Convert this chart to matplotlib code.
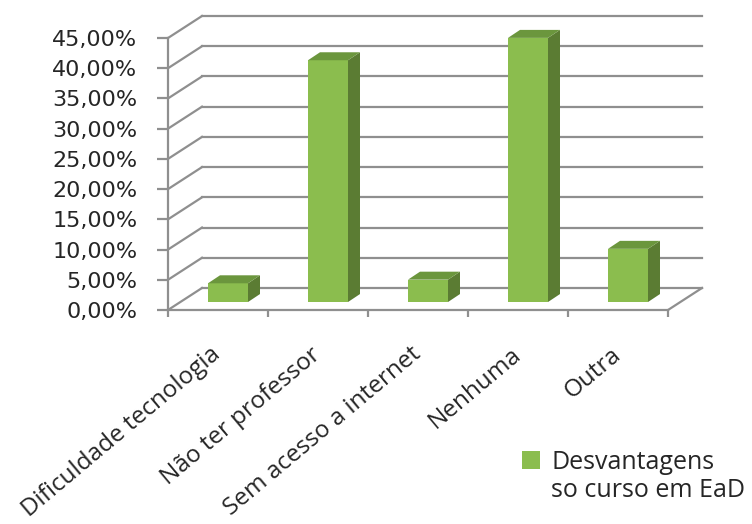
import numpy as np
import matplotlib.pyplot as plt
from matplotlib.patches import Polygon, Patch
from matplotlib.ticker import FuncFormatter

categorias = ["Dificuldade tecnologia", "Não ter professor", "Sem acesso a internet",
              "Nenhuma", "Outra"]
valores = [3.1, 40.0, 3.7, 43.7, 8.8]
legenda = ["Desvantagens", "so curso em EaD"]
yticks = np.arange(0, 46, 5)

verde = "#8bbd4e"
lado = "#5b7c33"
topo = "#6b963d"
grade = "#8f8f8f"

# fake 3d perspective, in data units
prof_x, prof_y = 0.34, 3.64     # back wall offset
base_x, base_y = 0.10, 1.32     # where the bars sit in depth
larg = 0.40
lado_x, lado_y = 0.12, 1.32     # bar depth

fig = plt.figure(figsize=(7.52, 5.24), dpi=100)
ax = fig.add_axes([168 / 752, 1 - 310 / 524, 500 / 752, 272 / 524])
ax.set_xlim(-0.5, 4.5)
ax.set_ylim(0, 45)
ax.patch.set_visible(False)
for s in ["top", "right"]:
    ax.spines[s].set_visible(False)
for s in ["left", "bottom"]:
    ax.spines[s].set_color(grade)
    ax.spines[s].set_linewidth(1.6)

# back wall + floor
for v in yticks:
    ax.plot([-0.5 + prof_x, 4.5 + prof_x], [v + prof_y] * 2, color=grade, lw=1.6,
            clip_on=False, zorder=1)
    ax.plot([-0.5, -0.5 + prof_x], [v, v + prof_y], color=grade, lw=1.6,
            clip_on=False, zorder=1)
ax.plot([4.5, 4.5 + prof_x], [0, prof_y], color=grade, lw=1.6, clip_on=False, zorder=1)

for i, v in enumerate(valores):
    x0 = i - larg / 2 + base_x
    x1 = x0 + larg
    y0 = base_y
    y1 = base_y + v
    frente = Polygon([(x0, y0), (x1, y0), (x1, y1), (x0, y1)], fc=verde, ec="none",
                     zorder=3, clip_on=False)
    direita = Polygon([(x1, y0), (x1 + lado_x, y0 + lado_y), (x1 + lado_x, y1 + lado_y),
                       (x1, y1)], fc=lado, ec="none", zorder=3, clip_on=False)
    cima = Polygon([(x0, y1), (x1, y1), (x1 + lado_x, y1 + lado_y),
                    (x0 + lado_x, y1 + lado_y)], fc=topo, ec="none", zorder=3, clip_on=False)
    for p in (frente, direita, cima):
        ax.add_patch(p)

ax.set_yticks(yticks)
ax.yaxis.set_major_formatter(FuncFormatter(lambda v, p: f"{v:.2f}".replace(".", ",") + "%"))
ax.tick_params(axis="y", length=8, width=1.6, color=grade, pad=14, labelsize=16,
               labelcolor="#262626")

ax.set_xticks(range(len(categorias)))
ax.set_xticklabels(categorias)
ax.set_xticks(np.arange(-0.5, len(categorias), 1), minor=True)
ax.tick_params(axis="x", which="major", length=0, pad=30)
ax.tick_params(axis="x", which="minor", length=5, width=1.6, color=grade)
for t in ax.get_xticklabels():
    t.set_fontfamily("Open Sans")
    t.set_fontsize(17.5)
    t.set_color("#262626")
    t.set_rotation(40)
    t.set_ha("right")
    t.set_va("center")
    t.set_rotation_mode("anchor")

fig.legend(handles=[Patch(fc=verde), Patch(alpha=0)], labels=legenda,
           loc="upper left", bbox_to_anchor=(522 / 752, 1 - 450 / 524), frameon=False,
           borderpad=0, borderaxespad=0, handlelength=0.72, handleheight=0.72,
           handletextpad=0.45, labelspacing=0.12, prop={"family": "Open Sans", "size": 18})
for t in fig.legends[0].get_texts():
    t.set_color("#262626")

fig.savefig("out.png", dpi=100)
